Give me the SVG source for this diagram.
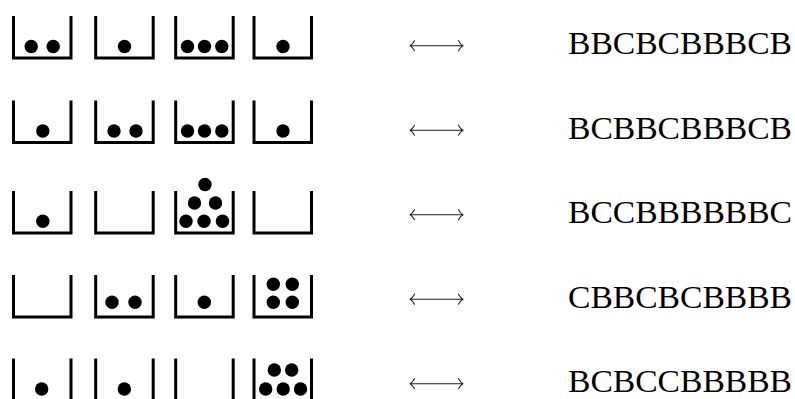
<svg xmlns="http://www.w3.org/2000/svg" width="795" height="399" viewBox="0 0 795 399">
<defs>
<style>
.cup{fill:none;stroke:#000;stroke-width:3;stroke-linejoin:miter;stroke-linecap:butt}
.ball{fill:#000}
.arr{fill:none;stroke:#222;stroke-width:1.1;stroke-linecap:round;stroke-linejoin:round}
.lbl{font-family:"Liberation Serif","DejaVu Serif",serif;font-size:32px;fill:#000}
</style>
<symbol id="cupShape" overflow="visible"><path class="cup" d="M0 0 V42 H57.5 V0"/></symbol>
<symbol id="dArrow" overflow="visible"><path class="arr" d="M0.5 0 H53.5 M5 -5 Q3 -1.2 0.5 0 Q3 1.2 5 5 M49 -5 Q51 -1.2 53.5 0 Q51 1.2 49 5"/></symbol>
</defs>
<rect width="795" height="399" fill="#fff"/>

<g id="row1">
<g id="r1c1"><use href="#cupShape" x="13.5" y="16"/><circle class="ball" cx="31.2" cy="46.5" r="6.7"/><circle class="ball" cx="53.2" cy="46.5" r="6.7"/></g>
<g id="r1c2"><use href="#cupShape" x="95.7" y="16"/><circle class="ball" cx="124.5" cy="46.5" r="6.7"/></g>
<g id="r1c3"><use href="#cupShape" x="175.7" y="16"/><circle class="ball" cx="187.5" cy="46.5" r="6.7"/><circle class="ball" cx="204.5" cy="46.5" r="6.7"/><circle class="ball" cx="221.8" cy="46.5" r="6.7"/></g>
<g id="r1c4"><use href="#cupShape" x="254" y="16"/><circle class="ball" cx="283" cy="46.5" r="6.7"/></g>
</g>

<g id="row2">
<g id="r2c1"><use href="#cupShape" x="13.5" y="100.5"/><circle class="ball" cx="42.8" cy="131" r="6.7"/></g>
<g id="r2c2"><use href="#cupShape" x="95.7" y="100.5"/><circle class="ball" cx="114" cy="131" r="6.7"/><circle class="ball" cx="136" cy="131" r="6.7"/></g>
<g id="r2c3"><use href="#cupShape" x="175.7" y="100.5"/><circle class="ball" cx="187.5" cy="131" r="6.7"/><circle class="ball" cx="204.5" cy="131" r="6.7"/><circle class="ball" cx="221.8" cy="131" r="6.7"/></g>
<g id="r2c4"><use href="#cupShape" x="254" y="100.5"/><circle class="ball" cx="283" cy="131" r="6.7"/></g>
</g>

<g id="row3">
<g id="r3c1"><use href="#cupShape" x="13.5" y="191"/><circle class="ball" cx="42.8" cy="221.3" r="6.7"/></g>
<g id="r3c2"><use href="#cupShape" x="95.7" y="191"/></g>
<g id="r3c3"><use href="#cupShape" x="175.7" y="191"/><circle class="ball" cx="186" cy="221.3" r="6.7"/><circle class="ball" cx="204" cy="221.3" r="6.7"/><circle class="ball" cx="222.5" cy="221.3" r="6.7"/><circle class="ball" cx="194.5" cy="203" r="6.7"/><circle class="ball" cx="215.5" cy="203" r="6.7"/><circle class="ball" cx="205" cy="184.5" r="6.7"/></g>
<g id="r3c4"><use href="#cupShape" x="254" y="191"/></g>
</g>

<g id="row4">
<g id="r4c1"><use href="#cupShape" x="13.5" y="275"/></g>
<g id="r4c2"><use href="#cupShape" x="95.7" y="275"/><circle class="ball" cx="112" cy="302.3" r="6.7"/><circle class="ball" cx="135" cy="302.3" r="6.7"/></g>
<g id="r4c3"><use href="#cupShape" x="175.7" y="275"/><circle class="ball" cx="204.3" cy="302.3" r="6.7"/></g>
<g id="r4c4"><use href="#cupShape" x="254" y="275"/><circle class="ball" cx="273.3" cy="284.3" r="6.7"/><circle class="ball" cx="292.3" cy="284.3" r="6.7"/><circle class="ball" cx="273.3" cy="302.3" r="6.7"/><circle class="ball" cx="292.3" cy="302.3" r="6.7"/></g>
</g>

<g id="row5">
<g id="r5c1"><use href="#cupShape" x="13.5" y="358.5"/><circle class="ball" cx="41.7" cy="389" r="6.7"/></g>
<g id="r5c2"><use href="#cupShape" x="95.7" y="358.5"/><circle class="ball" cx="124.3" cy="389" r="6.7"/></g>
<g id="r5c3"><use href="#cupShape" x="175.7" y="358.5"/></g>
<g id="r5c4"><use href="#cupShape" x="254" y="358.5"/><circle class="ball" cx="265.7" cy="389" r="6.7"/><circle class="ball" cx="283.2" cy="389" r="6.7"/><circle class="ball" cx="300.5" cy="389" r="6.7"/><circle class="ball" cx="274.3" cy="370" r="6.7"/><circle class="ball" cx="291.7" cy="370" r="6.7"/></g>
</g>

<g id="connectors">
<use href="#dArrow" x="409.5" y="45.7"/>
<use href="#dArrow" x="409.5" y="130.2"/>
<use href="#dArrow" x="409.5" y="214.7"/>
<use href="#dArrow" x="409.5" y="299.2"/>
<use href="#dArrow" x="409.5" y="383.7"/>
</g>

<g id="labels">
<text id="t1" class="lbl" x="568" y="54.3" textLength="224" lengthAdjust="spacingAndGlyphs">BBCBCBBBCB</text>
<text id="t2" class="lbl" x="568" y="138.8" textLength="224" lengthAdjust="spacingAndGlyphs">BCBBCBBBCB</text>
<text id="t3" class="lbl" x="568" y="223.3" textLength="224" lengthAdjust="spacingAndGlyphs">BCCBBBBBBC</text>
<text id="t4" class="lbl" x="568" y="307.8" textLength="224" lengthAdjust="spacingAndGlyphs">CBBCBCBBBB</text>
<text id="t5" class="lbl" x="568" y="392.3" textLength="224" lengthAdjust="spacingAndGlyphs">BCBCCBBBBB</text>
</g>
</svg>
